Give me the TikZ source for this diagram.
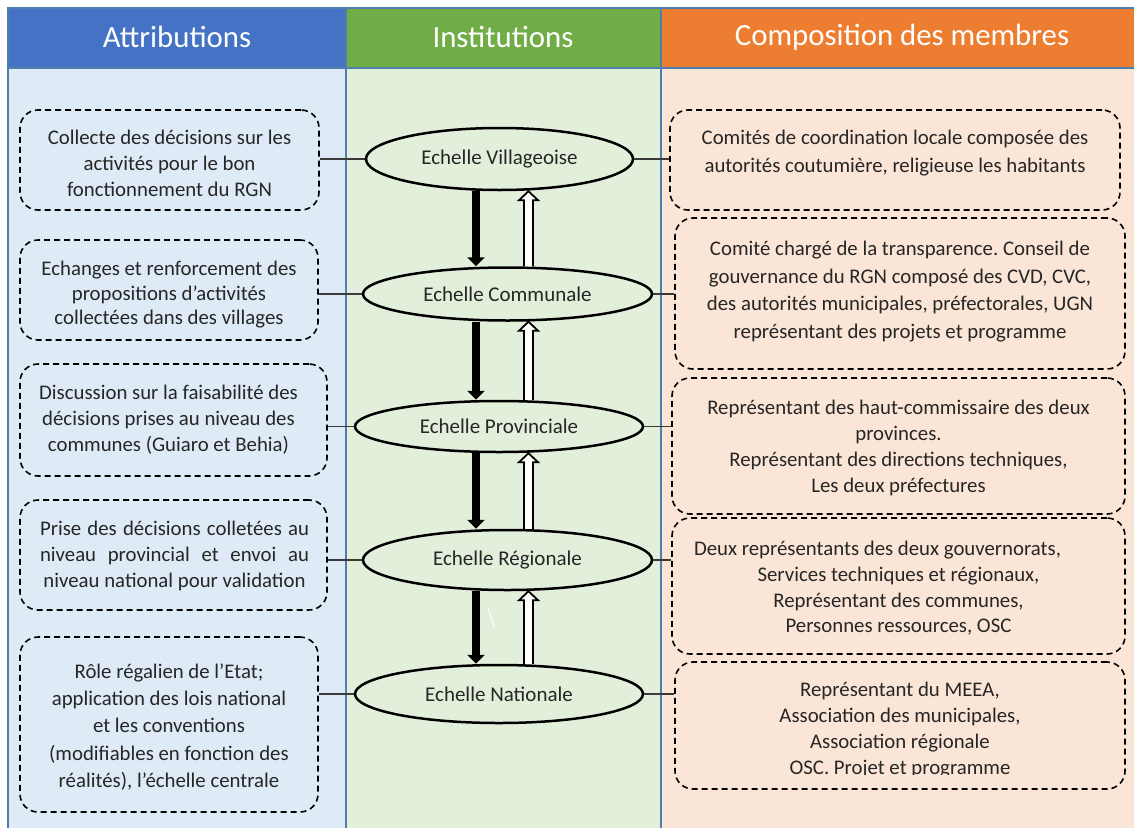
\documentclass[tikz,border=0pt]{standalone}
\usepackage{fontspec}
\setmainfont{Carlito}
\usetikzlibrary{arrows.meta,shapes.geometric,calc}
\frenchspacing
\definecolor{hblue}{HTML}{4472C4}
\definecolor{hgreen}{HTML}{70AD47}
\definecolor{horange}{HTML}{ED7D31}
\definecolor{bblue}{HTML}{DEEBF7}
\definecolor{bgreen}{HTML}{E2EFDA}
\definecolor{borange}{HTML}{FBE5D6}
\definecolor{colline}{HTML}{4F7DAE}
\definecolor{txtc}{HTML}{262626}
\definecolor{connc}{HTML}{3A3A3A}
\newcommand\hollowup[2]{%
  \draw[line width=1.8pt, fill=white, line join=miter]
    let \p1=(#1), \p2=(#2) in
    (\x1-4.5pt,\y1) -- (\x1-4.5pt,\y2-9pt) -- (\x1-9.5pt,\y2-9pt) -- (\x1,\y2)
    -- (\x1+9.5pt,\y2-9pt) -- (\x1+4.5pt,\y2-9pt) -- (\x1+4.5pt,\y1);}
\begin{document}
\begin{tikzpicture}[x=1pt,y=-1pt,
  txt/.style={text=txtc, font=\fontsize{20.8}{26}\selectfont, align=center, inner sep=0pt},
  dbox/.style={draw=black, dash pattern=on 6pt off 4pt, line width=1.6pt, rounded corners=18pt, inner sep=0pt},
  ell/.style={ellipse, draw=black, line width=2.5pt, fill=bgreen, inner sep=0pt, font=\fontsize{21}{24}\selectfont, text=txtc},
  conn/.style={draw=connc, line width=1.2pt},
  downarr/.style={line width=8pt, -{Triangle[width=17pt,length=9pt]}},
  hdr/.style={text=white, font=\fontsize{30.8}{34}\selectfont}]
\useasboundingbox (0,0) rectangle (1134,827);
\clip (0,0) rectangle (1134,827);
% columns
\fill[bblue] (8,68) rectangle (346,840);
\fill[bgreen] (346,68) rectangle (661,840);
\fill[borange] (661,68) rectangle (1140,840);
\fill[hblue] (8,8) rectangle (346,68);
\fill[hgreen] (346,8) rectangle (661,68);
\fill[horange] (661,8) rectangle (1140,68);
\draw[colline, line width=1.6pt] (8,840) -- (8,8) -- (1140,8);
\draw[colline, line width=1.6pt] (8,68) -- (1140,68);
\draw[colline, line width=1.6pt] (346,8) -- (346,840);
\draw[colline, line width=1.6pt] (661,8) -- (661,840);
\node[hdr] (h1) at (177,37) {Attributions};
\node[hdr] (h2) at (503,37) {Institutions};
\node[hdr] (h3) at (902,37) {Composition des membres};
% ellipses
\node[ell, minimum width=267pt, minimum height=62pt] (e1) at (499.5,159) {Echelle Villageoise};
\node[ell, minimum width=289pt, minimum height=53pt] (e2) at (507.5,294) {Echelle Communale};
\node[ell, minimum width=288pt, minimum height=51pt] (e3) at (499,426.5) {Echelle Provinciale};
\node[ell, minimum width=289pt, minimum height=60pt] (e4) at (507.5,560) {Echelle Régionale};
\node[ell, minimum width=288pt, minimum height=58pt] (e5) at (499,694) {Echelle Nationale};
% left boxes
\node[dbox, minimum width=299pt, minimum height=100pt] (l1) at (169.5,160) {};
\node[dbox, minimum width=298pt, minimum height=100pt] (l2) at (169,290) {};
\node[dbox, minimum width=307pt, minimum height=112pt] (l3) at (173.5,420) {};
\node[dbox, minimum width=307pt, minimum height=110pt] (l4) at (173.5,555) {};
\node[dbox, minimum width=298pt, minimum height=175pt] (l5) at (169,724.5) {};
\node[txt, yshift=-3pt] (l1t) at (l1.center) {Collecte des décisions sur les\\activités pour le bon\\fonctionnement du RGN};
\node[txt, yshift=-5pt, font=\fontsize{20.8}{24.5}\selectfont] (l2t) at (l2.center) {Echanges et renforcement des\\propositions d’activités\\collectées dans des villages};
\node[txt, xshift=-5pt] (l3t) at (l3.center) {Discussion sur la faisabilité des\\décisions prises au niveau des\\communes (Guiaro et Behia)};
\node[txt, yshift=-1pt, xshift=1pt] (l4t) at (l4.center) {\makebox[269pt][s]{Prise des décisions colletées au}\\\makebox[269pt][s]{niveau provincial et envoi au}\\niveau national pour validation};
\node[txt, yshift=-2.5pt, font=\fontsize{20.8}{27.2}\selectfont] (l5t) at (l5.center) {Rôle régalien de l’Etat;\\application des lois national\\et les conventions\\(modifiables en fonction des\\réalités), l’échelle centrale};
% right boxes
\node[dbox, minimum width=450pt, minimum height=100pt] (r1) at (895,160) {};
\node[dbox, minimum width=450pt, minimum height=151pt] (r2) at (900,293.5) {};
\node[dbox, minimum width=453pt, minimum height=136pt] (r3) at (898.5,446) {};
\node[dbox, minimum width=453pt, minimum height=136pt] (r4) at (898.5,586) {};
\node[dbox, minimum width=450pt, minimum height=127pt] (r5) at (900,725.5) {};
\node[txt, yshift=7pt, font=\fontsize{20.8}{28}\selectfont] (r1t) at (r1.center) {Comités de coordination locale composée des\\autorités coutumière, religieuse les habitants};
\node[txt, yshift=2pt, font=\fontsize{20.8}{27.7}\selectfont] (r2t) at (r2.center) {Comité chargé de la transparence. Conseil de\\gouvernance du RGN composé des CVD, CVC,\\des autorités municipales, préfectorales, UGN\\représentant des projets et programme};
\node[txt, yshift=-1.5pt] (r3t) at (r3.center) {Représentant des haut-commissaire des deux\\provinces.\\Représentant des directions techniques,\\Les deux préfectures};
\node[txt, yshift=-2.5pt, font=\fontsize{20.8}{25.7}\selectfont] (r4t) at (r4.center) {Deux représentants des deux gouvernorats,\hspace*{42pt}\\Services techniques et régionaux,\\Représentant des communes,\\Personnes ressources, OSC};
\begin{scope}
\clip (600,0) rectangle (1134,774.5);
\node[txt, yshift=-4.5pt] (r5t) at (r5.center) {Représentant du MEEA,\\Association des municipales,\\Association régionale\\OSC. Projet et programme};
\end{scope}
% connectors
\foreach \i in {1,...,5}{
  \draw[conn] (l\i.east |- e\i.west) -- (e\i.west);
  \draw[conn] (e\i.east) -- (e\i.east -| r\i.west);
}
% arrows
\coordinate (dx) at (476,0);
\coordinate (ux) at (528.5,0);
\draw[downarr] (e1.south -| dx) -- (e2.north -| dx);
\draw[downarr] (e2.south -| dx) -- (e3.north -| dx);
\draw[downarr] (e3.south -| dx) -- (e4.north -| dx);
\draw[downarr] (e4.south -| dx) -- (e5.north -| dx);
\hollowup{e2.north -| ux}{e1.south -| ux}
\hollowup{e3.north -| ux}{e2.south -| ux}
\hollowup{e4.north -| ux}{e3.south -| ux}
\hollowup{e5.north -| ux}{e4.south -| ux}
\draw[white, line width=1pt] (488,608) -- (494,627);
\end{tikzpicture}
\end{document}
